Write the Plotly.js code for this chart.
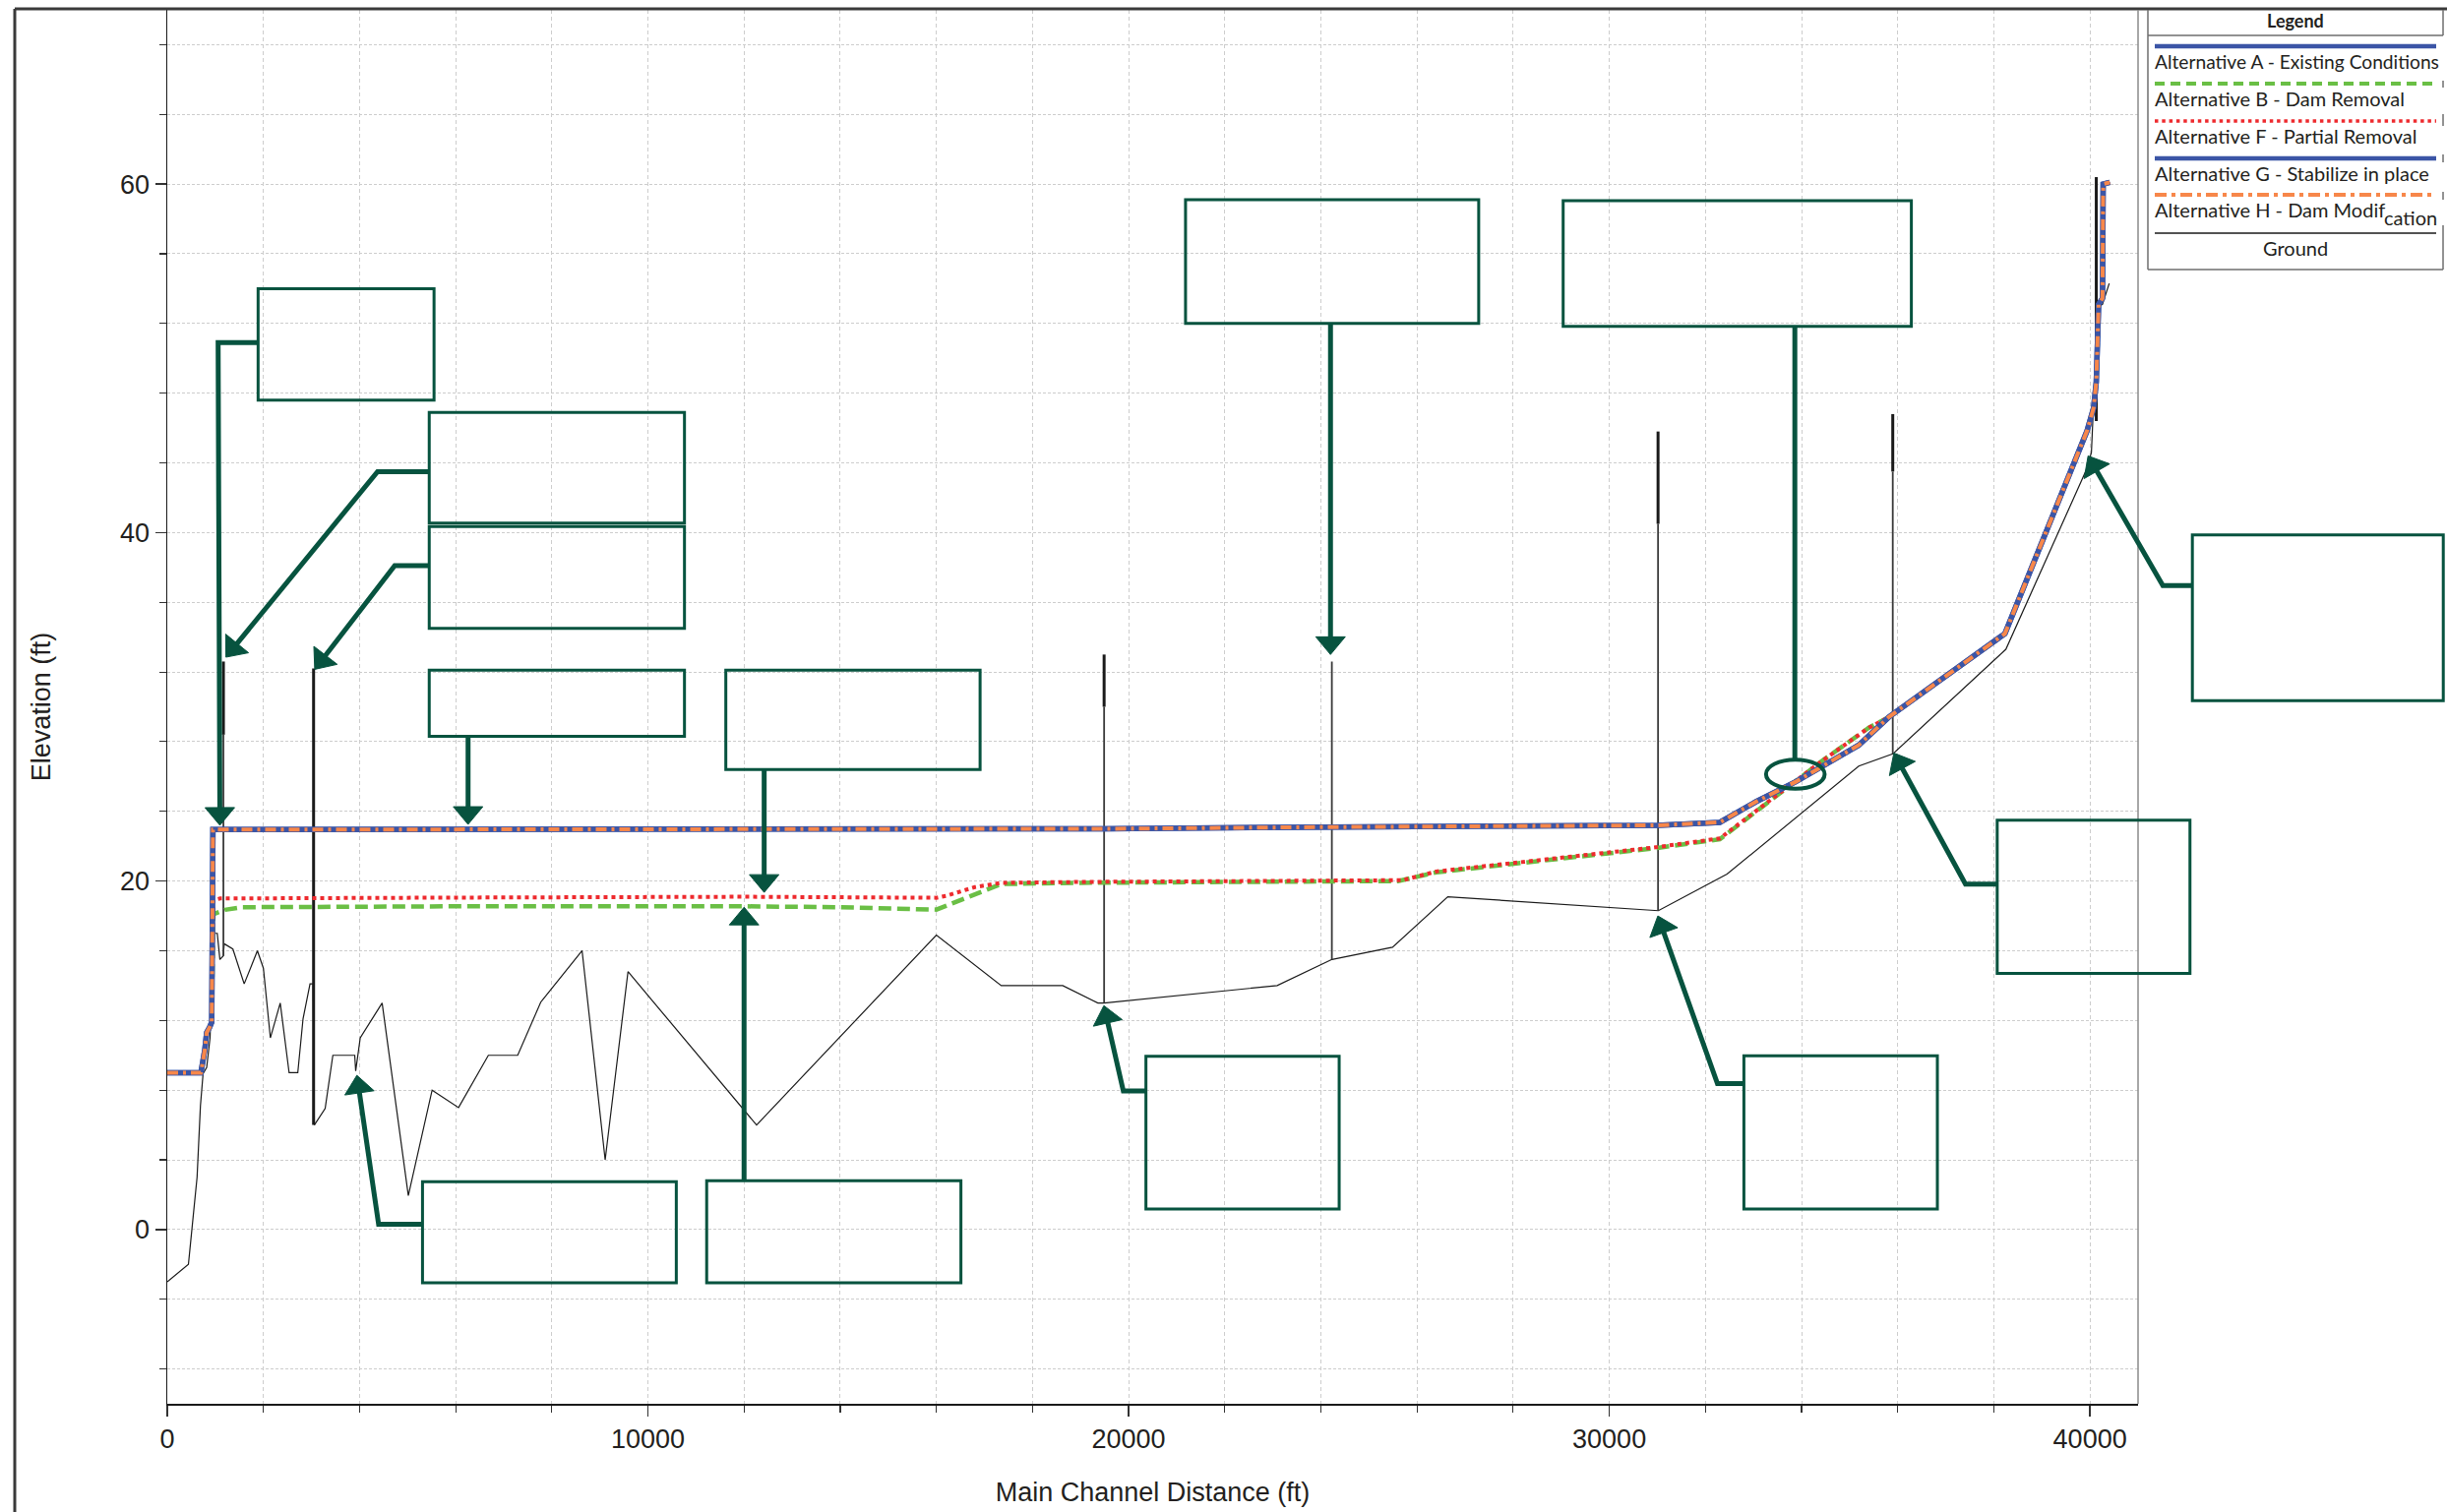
<!DOCTYPE html>
<html>
<head>
<meta charset="utf-8">
<script src="https://cdn.plot.ly/plotly-3.0.1.min.js"></script>
<style>
html,body{margin:0;padding:0;background:#ffffff;overflow:hidden;}
#chart{width:2487px;height:1537px;}
</style>
</head>
<body>
<div id="chart"></div>
<script>
// ---------------- DATA ----------------
const seriesNames = [
  "Alternative A - Existing Conditions",
  "Alternative B - Dam Removal",
  "Alternative F - Partial Removal",
  "Alternative G - Stabilize in place",
  "Alternative H - Dam Modification",
  "Ground"
];

const groundX = [0, 440, 620, 690, 745, 820, 890, 965, 1040, 1095, 1165, 1185, 1365, 1600, 1875, 2000, 2145, 2350, 2535, 2715, 2825, 2970, 3035, 3060, 3285, 3445, 3900, 3920, 4015, 4470, 5015, 5510, 6060, 6680, 7290, 7770, 8630, 9110, 9585, 12260, 16000, 17350, 18630, 19360, 19490, 23090, 24230, 25490, 26640, 31020, 32450, 34380, 35190, 35900, 38250, 39925, 40030, 40100, 40200, 40260, 40400];
const groundY = [-3.0, -2.0, 3.0, 7.1, 8.95, 9.3, 11.0, 17.0, 17.0, 15.5, 15.7, 16.4, 16.1, 14.1, 16.0, 15.0, 11.0, 13.0, 9.0, 9.0, 12.1, 14.1, 14.1, 6.0, 6.95, 10.0, 10.0, 9.1, 11.0, 13.0, 1.95, 8.0, 7.0, 10.0, 10.0, 13.05, 16.0, 4.0, 14.8, 6.0, 16.9, 14.0, 14.0, 13.0, 13.0, 14.0, 15.5, 16.2, 19.1, 18.3, 20.4, 24.75, 26.6, 27.3, 33.3, 43.6, 44.6, 49.0, 53.0, 53.1, 54.3];

const altAX = [0, 700, 780, 820, 880, 925, 950, 2000, 6000, 12000, 16000, 19500, 24200, 31000, 32300, 33050, 33880, 35190, 35810, 38230, 39940, 40075, 40131, 40165, 40180, 40260, 40274, 40412];
const altAY = [9.0, 9.0, 10.3, 11.3, 11.6, 11.9, 22.95, 22.95, 22.95, 22.95, 22.96, 23.0, 23.1, 23.2, 23.37, 24.55, 25.7, 27.8, 29.4, 34.2, 45.85, 47.15, 48.66, 51.25, 53.1, 53.45, 60.0, 60.1];

const altBX = [0, 700, 780, 820, 880, 925, 960, 1200, 1550, 6000, 12000, 14000, 16000, 16500, 17000, 17350, 19000, 25600, 26400, 31000, 32300, 33050, 33880, 34430, 35400, 35810, 38230, 39940, 40075, 40131, 40165, 40180, 40260, 40274, 40412];
const altBY = [9.0, 9.0, 10.3, 11.3, 11.6, 11.9, 18.1, 18.35, 18.5, 18.55, 18.55, 18.5, 18.36, 18.9, 19.45, 19.83, 19.9, 20.0, 20.5, 21.9, 22.4, 24.0, 25.7, 26.9, 28.8, 29.4, 34.2, 45.85, 47.15, 48.66, 51.25, 53.1, 53.45, 60.0, 60.1];

const altFX = [0, 700, 780, 820, 880, 925, 960, 1100, 6000, 12000, 16000, 16200, 16800, 17350, 19000, 25700, 26400, 31000, 32300, 33050, 33880, 34430, 35400, 35810, 38230, 39940, 40075, 40131, 40165, 40180, 40260, 40274, 40412];
const altFY = [9.0, 9.0, 10.3, 11.3, 11.6, 11.9, 18.9, 19.0, 19.05, 19.1, 19.04, 19.15, 19.65, 19.9, 19.95, 20.05, 20.55, 21.95, 22.45, 24.0, 25.7, 26.9, 28.8, 29.4, 34.2, 45.85, 47.15, 48.66, 51.25, 53.1, 53.45, 60.0, 60.1];

const altGX = altAX.slice();
const altGY = altAY.slice();
const altHX = altAX.slice();
const altHY = altAY.slice();

// structures (vertical lines): station, top, bottom, bottom of heavy deck part
const structX    = [1168, 3044, 19490, 24228, 31014, 35897, 40131];
const structTop  = [32.6, 32.2, 33.0, 32.6, 45.8, 46.8, 60.4];
const structBot  = [15.7, 6.0, 13.0, 15.5, 18.3, 27.3, 46.4];
const structDeck = [28.4, 6.0, 30.0, 32.6, 40.5, 43.5, 46.4];

// axis ticks
const xTickVals = [0, 10000, 20000, 30000, 40000];
const xTickText = ["0", "10000", "20000", "30000", "40000"];
const yTickVals = [0, 20, 40, 60];
const yTickText = ["0", "20", "40", "60"];

// ---------------- LAYOUT CONSTANTS ----------------
const W = 2487, H = 1537;
const M = {l:170, r:314, t:10, b:110};
const PW = W - M.l - M.r, PH = H - M.t - M.b;
const XR = [0, 41000], YR = [-10, 70];
const GREEN = '#07533f';

function fx(v){ return (v - XR[0]) / (XR[1] - XR[0]); }
function fy(v){ return (v - YR[0]) / (YR[1] - YR[0]); }
function pgx(X){ return (X - M.l) / PW; }
function pgy(Y){ return (H - M.b - Y) / PH; }

// callout boxes / arrows (in axis units), converted to paper so they can extend beyond the plot
const calloutBoxes = [
  [1890, 5550, 47.6, 54.0],
  [5450, 10760, 40.55, 46.9],
  [5450, 10760, 34.5, 40.35],
  [5450, 10760, 28.3, 32.1],
  [11620, 16910, 26.4, 32.1],
  [5310, 10590, -3.05, 2.75],
  [11222, 16511, -3.05, 2.8],
  [20360, 24380, 1.18, 9.95],
  [21184, 27283, 52.0, 59.1],
  [29040, 36284, 51.84, 59.05],
  [32800, 36825, 1.18, 9.97],
  [38070, 42080, 14.7, 23.5],
  [42130, 47350, 30.35, 39.87]
];
const calloutArrows = [
  {p:[[1890,50.9],[1058,50.9],[1095,23.2]], head:true},
  {p:[[5450,43.5],[4375,43.5],[1220,32.85]], head:true},
  {p:[[5450,38.1],[4732,38.1],[3068,32.15]], head:true},
  {p:[[6258,28.3],[6258,23.25]], head:true},
  {p:[[12418,26.4],[12418,19.35]], head:true},
  {p:[[5310,0.3],[4397,0.3],[3945,8.85]], head:true},
  {p:[[12000,2.8],[12000,18.5]], head:true},
  {p:[[20360,7.95],[19890,7.95],[19485,12.85]], head:true},
  {p:[[24200,52.0],[24200,33.0]], head:true},
  {p:[[33860,51.84],[33860,26.97]], head:false},
  {p:[[32800,8.37],[32250,8.37],[31010,18.0]], head:true},
  {p:[[38070,19.83],[37410,19.83],[35920,27.35]], head:true},
  {p:[[42130,36.96],[41516,36.96],[39960,44.4]], head:true}
];
const calloutEllipse = [33260, 34480, 25.3, 26.97];

// ---------------- TRACES ----------------
const traces = [];
traces.push({x: groundX, y: groundY, name: seriesNames[5], type:'scatter', mode:'lines',
  line:{color:'#1a1a1a', width:1.2}, hoverinfo:'skip'});

const sx = [], sy = [], dx = [], dy = [];
structX.forEach((s, i) => {
  sx.push(s, s, null); sy.push(structDeck[i], structBot[i], null);
  dx.push(s, s, null); dy.push(structTop[i], structDeck[i], null);
});
traces.push({x: sx, y: sy, type:'scatter', mode:'lines', line:{color:'#3a3a3a', width:1.8}, hoverinfo:'skip', name:'Structures'});
traces.push({x: dx, y: dy, type:'scatter', mode:'lines', line:{color:'#1a1a1a', width:3}, hoverinfo:'skip', name:'Decks'});

traces.push({x: altBX, y: altBY, name: seriesNames[1], type:'scatter', mode:'lines',
  line:{color:'#6abf45', width:4.5, dash:'13px,6px'}});
traces.push({x: altFX, y: altFY, name: seriesNames[2], type:'scatter', mode:'lines',
  line:{color:'#ee2a2e', width:4, dash:'4px,4px'}});
traces.push({x: altAX, y: altAY, name: seriesNames[0], type:'scatter', mode:'lines',
  line:{color:'#3b55a6', width:5.5}});
traces.push({x: altGX, y: altGY, name: seriesNames[3], type:'scatter', mode:'lines',
  line:{color:'#3b55a6', width:5.5}});
traces.push({x: altHX, y: altHY, name: seriesNames[4], type:'scatter', mode:'lines',
  line:{color:'#f7874a', width:4, dash:'11px,5px,3px,5px'}});

// ---------------- SHAPES ----------------
const shapes = [];
// outer frame
shapes.push({type:'line', xref:'paper', yref:'paper', x0:pgx(15), x1:pgx(15), y0:pgy(9), y1:pgy(1545), line:{color:'#3a3a3a', width:3}});
shapes.push({type:'line', xref:'paper', yref:'paper', x0:pgx(15), x1:pgx(2495), y0:pgy(9), y1:pgy(9), line:{color:'#3a3a3a', width:3}});
// right plot border
shapes.push({type:'line', xref:'paper', yref:'paper', x0:1, x1:1, y0:0, y1:1, line:{color:'#8a8a8a', width:1.5}});

// callout boxes
calloutBoxes.forEach(b => {
  shapes.push({type:'rect', xref:'paper', yref:'paper', x0:fx(b[0]), x1:fx(b[1]), y0:fy(b[2]), y1:fy(b[3]),
    line:{color:GREEN, width:3}, fillcolor:'rgba(0,0,0,0)'});
});
// arrows
function toPx(p){ return [fx(p[0]) * PW, fy(p[1]) * PH]; }
function pp(q){ return (q[0] / PW).toFixed(6) + ',' + (q[1] / PH).toFixed(6); }
calloutArrows.forEach(a => {
  const pts = a.p.map(toPx);
  const T = pts[pts.length - 1], P = pts[pts.length - 2];
  let shaft = pts.slice();
  if (a.head) {
    const dxp = T[0] - P[0], dyp = T[1] - P[1];
    const len = Math.hypot(dxp, dyp);
    const ux = dxp / len, uy = dyp / len;
    const L = 18, HW = 15;
    const B = [T[0] - ux * L, T[1] - uy * L];
    shaft = pts.slice(0, -1).concat([[T[0] - ux * (L - 2), T[1] - uy * (L - 2)]]);
    const n = [-uy, ux];
    const h1 = [B[0] + n[0] * HW, B[1] + n[1] * HW];
    const h2 = [B[0] - n[0] * HW, B[1] - n[1] * HW];
    shapes.push({type:'path', xref:'paper', yref:'paper',
      path:'M' + pp(T) + ' L' + pp(h1) + ' L' + pp(h2) + ' Z',
      fillcolor:GREEN, line:{color:GREEN, width:1}});
  }
  shapes.push({type:'path', xref:'paper', yref:'paper',
    path: shaft.map((q, i) => (i ? ' L' : 'M') + pp(q)).join(''),
    line:{color:GREEN, width:5}});
});
shapes.push({type:'circle', xref:'paper', yref:'paper', x0:fx(calloutEllipse[0]), x1:fx(calloutEllipse[1]),
  y0:fy(calloutEllipse[2]), y1:fy(calloutEllipse[3]), line:{color:GREEN, width:4}});

// custom legend box
const LG = '#6e6e6e';
shapes.push({type:'line', xref:'paper', yref:'paper', x0:pgx(2183), x1:pgx(2183), y0:pgy(10), y1:pgy(274), line:{color:LG, width:1.5}});
shapes.push({type:'line', xref:'paper', yref:'paper', x0:pgx(2183), x1:pgx(2483), y0:pgy(274), y1:pgy(274), line:{color:LG, width:1.5}});
shapes.push({type:'line', xref:'paper', yref:'paper', x0:pgx(2183), x1:pgx(2483), y0:pgy(36), y1:pgy(36), line:{color:LG, width:1.5}});
[[10,36],[82,89],[116,128],[157,165],[195,203],[229,274]].forEach(s => {
  shapes.push({type:'line', xref:'paper', yref:'paper', x0:pgx(2483), x1:pgx(2483), y0:pgy(s[0]), y1:pgy(s[1]), line:{color:LG, width:1.5}});
});
const legendLineY = [47, 85, 123, 161, 198, 237];
const legendStyles = [
  {color:'#3b55a6', width:4.5},
  {color:'#6abf45', width:4, dash:'10px,6px'},
  {color:'#ee2a2e', width:3.5, dash:'3.5px,3.8px'},
  {color:'#3b55a6', width:4.5},
  {color:'#f7874a', width:4, dash:'12px,5px,4px,5px'},
  {color:'#1a1a1a', width:1.3}
];
legendLineY.forEach((Y, i) => {
  shapes.push({type:'line', xref:'paper', yref:'paper', x0:pgx(2190), x1:pgx(2476), y0:pgy(Y), y1:pgy(Y), line:legendStyles[i]});
});

// ---------------- ANNOTATIONS ----------------
const LFONT = 'Lato, "Open Sans", sans-serif';
const annotations = [];
annotations.push({xref:'paper', yref:'paper', x:pgx(2333), y:pgy(21), text:'<b>Legend</b>', showarrow:false,
  xanchor:'center', yanchor:'middle', font:{family:LFONT, size:18, color:'#231f20'}});
const legendTextY = [63, 100, 138, 176, 213];
const legendTextSize = [19.2, 20, 20, 20, 20];
const legendTexts = [seriesNames[0], seriesNames[1], seriesNames[2], seriesNames[3], "Alternative H - Dam Modif"];
legendTexts.forEach((t, i) => {
  annotations.push({xref:'paper', yref:'paper', x:pgx(2188), y:pgy(legendTextY[i]), text:t, showarrow:false,
    xanchor:'left', yanchor:'middle', font:{family:LFONT, size:legendTextSize[i], color:'#231f20'}});
});
annotations.push({xref:'paper', yref:'paper', x:pgx(2421), y:pgy(221), text:'cation', showarrow:false,
  xanchor:'left', yanchor:'middle', font:{family:LFONT, size:20, color:'#231f20'}});
annotations.push({xref:'paper', yref:'paper', x:pgx(2333), y:pgy(252), text:seriesNames[5], showarrow:false,
  xanchor:'center', yanchor:'middle', font:{family:LFONT, size:20, color:'#231f20'}});

// ---------------- LAYOUT ----------------
const AXFONT = '"Liberation Sans", Arial, sans-serif';
const gridC = '#cdcdcd';
const layout = {
  width: W, height: H,
  margin: {l:M.l, r:M.r, t:M.t, b:M.b, pad:0},
  paper_bgcolor:'#ffffff', plot_bgcolor:'#ffffff',
  showlegend:false,
  font:{family:AXFONT, size:27, color:'#231f20'},
  xaxis:{
    range:XR, tickmode:'array', tickvals:xTickVals, ticktext:xTickText,
    ticks:'outside', ticklen:11, tickwidth:1.3, tickcolor:'#333',
    showline:true, linecolor:'#1a1a1a', linewidth:2,
    showgrid:true, gridcolor:gridC, gridwidth:1, griddash:'4px,3px', zeroline:false,
    tickfont:{family:AXFONT, size:27, color:'#231f20'},
    title:{text:'Main Channel Distance (ft)', font:{family:AXFONT, size:27, color:'#231f20'}, standoff:30},
    minor:{tick0:0, dtick:2000, ticks:'outside', ticklen:7, tickwidth:1.1, tickcolor:'#333',
      showgrid:true, gridcolor:gridC, gridwidth:1, griddash:'4px,3px'},
    fixedrange:true
  },
  yaxis:{
    range:YR, tickmode:'array', tickvals:yTickVals, ticktext:yTickText,
    ticks:'outside', ticklen:11, tickwidth:1.3, tickcolor:'#333',
    showline:true, linecolor:'#1a1a1a', linewidth:1.5,
    showgrid:true, gridcolor:gridC, gridwidth:1, griddash:'3px,2px', zeroline:false,
    tickfont:{family:AXFONT, size:27, color:'#231f20'},
    title:{text:'Elevation (ft)', font:{family:AXFONT, size:27, color:'#231f20'}, standoff:62},
    minor:{tick0:0, dtick:4, ticks:'outside', ticklen:7, tickwidth:1.1, tickcolor:'#333',
      showgrid:true, gridcolor:gridC, gridwidth:1, griddash:'3px,2px'},
    fixedrange:true
  },
  shapes: shapes,
  annotations: annotations
};

Plotly.newPlot('chart', traces, layout, {staticPlot:true, displayModeBar:false});
</script>
</body>
</html>
